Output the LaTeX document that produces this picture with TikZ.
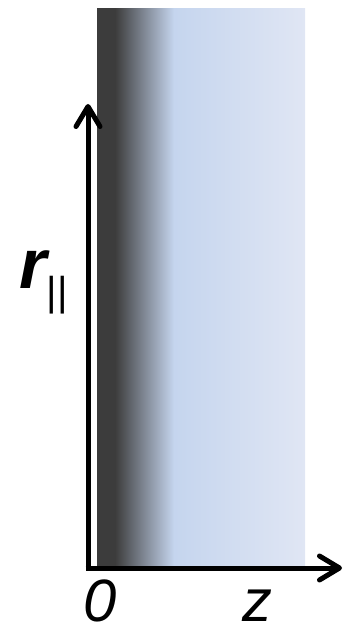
\documentclass[tikz,border=0pt]{standalone}
\usepackage{fontspec}
\setmainfont{Liberation Sans}
\usepackage{tikz}
\usetikzlibrary{
  arrows.meta,
  positioning,
  calc
}
\usepackage{xcolor}
\definecolor{slabdark}{HTML}{3C3C3C}
\definecolor{slabblue}{HTML}{C5D5EE}
\definecolor{slablight}{HTML}{E0E6F4}
% the path covers the inner 25bp--75bp of the shading
\pgfdeclarehorizontalshading{slabfade}{100bp}{
  color(0bp)=(slabdark); color(29.3bp)=(slabdark);
  color(43.5bp)=(slabblue); color(75bp)=(slablight); color(100bp)=(slablight)}
\tikzset{
  axis/.style={-{Straight Barb[length=4mm, width=4.8mm, round]}, line width=1mm},
  axislabel/.style={font=\fontsize{34}{40}\selectfont\itshape, inner sep=0pt, anchor=base},
}

\begin{document}
\begin{tikzpicture}[x=0.2mm, y=-0.2mm]
\useasboundingbox (0,0) rectangle (345,626);

% Graded slab
\shade[shading=slabfade] (97,9) rectangle (305,565);

% Axes
\coordinate (origin) at (88,568);
\coordinate (rtip) at (88,104);
\coordinate (ztip) at (342,568);
\draw[axis] ($(origin)+(0,2.5)$) -- (rtip);
\draw[axis] ($(origin)+(-2.5,0)$) -- (ztip);

% Labels
\node[axislabel] (zero) at (100,621) {0};
\node[axislabel] (zlab) at (257,621) {z};
\node[inner sep=0pt, anchor=base west, font=\fontsize{40}{44}\selectfont] (rlab) at (19,288)
  {\bfseries\itshape r\mdseries\upshape\fontsize{23}{23}\selectfont\raisebox{-3.4mm}{||}};

\end{tikzpicture}
\end{document}
